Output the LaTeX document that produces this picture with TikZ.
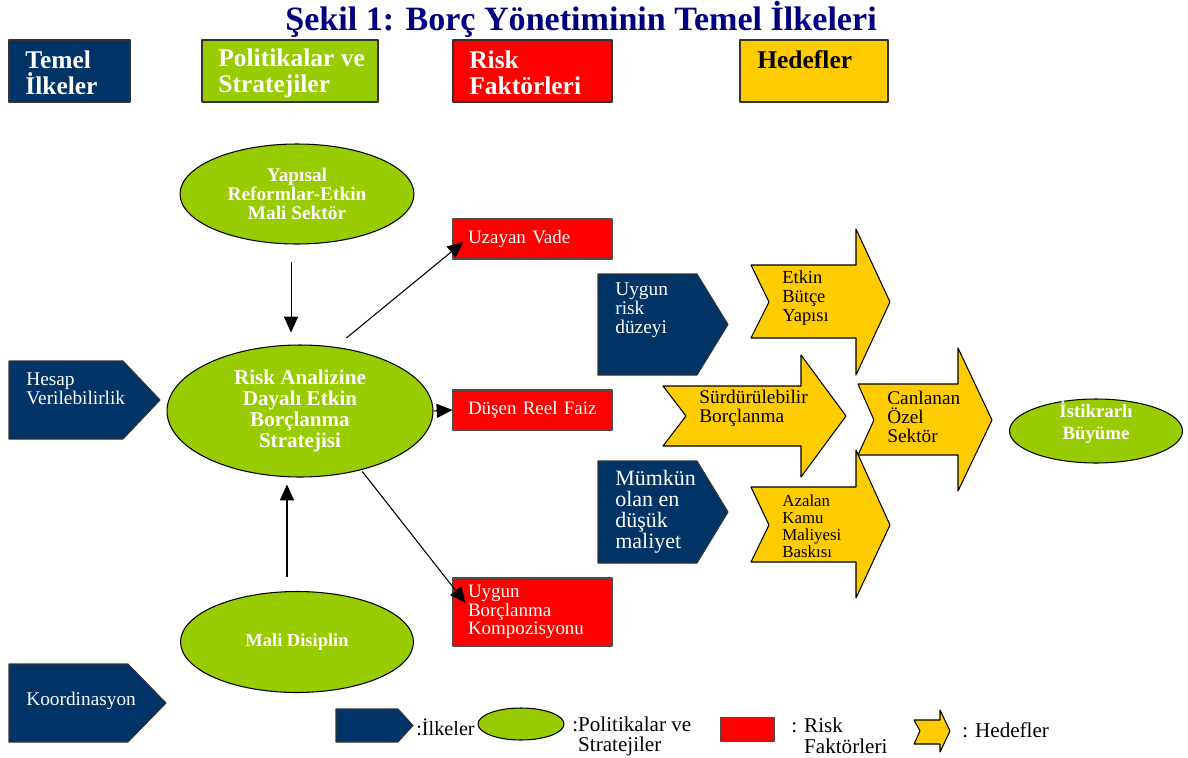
\documentclass[tikz,border=0pt]{standalone}
\usepackage{fontspec}
\setmainfont{Liberation Serif}
\usetikzlibrary{shapes.geometric,arrows.meta}
\definecolor{ilkerenk}{RGB}{0,51,102}
\definecolor{politika}{RGB}{153,204,0}
\definecolor{risk}{RGB}{255,0,0}
\definecolor{hedef}{RGB}{255,204,0}
\definecolor{baslikrenk}{RGB}{0,0,128}
\tikzset{
  kutu/.style={rectangle,draw=black!80,line width=0.7pt,minimum height=1.24cm,inner sep=0pt},
  kututext/.style={anchor=west,align=left,inner sep=0pt,font=\fontsize{14.5}{14.7}\selectfont\bfseries},
  politik/.style={ellipse,draw=black,line width=0.6pt,fill=politika,text=white,align=center,inner sep=0pt},
  riskbox/.style={rectangle,draw=black!70,line width=0.6pt,fill=risk,text=white,text width=2.58cm,
    inner xsep=0.3cm,inner ysep=0pt,minimum width=3.18cm,align=left,font=\fontsize{10.8}{10.6}\selectfont},
  ilke/.style={draw=black!80,line width=0.6pt,fill=ilkerenk},
  hedefok/.style={draw=black,line width=0.6pt,fill=hedef},
  yazi/.style={anchor=west,align=left,inner sep=0pt},
  pil/.style={->,line width=0.6pt}
}
\begin{document}
\begin{tikzpicture}[x=0.02cm,y=-0.02cm,>={Triangle[length=9pt,width=8pt]},line join=round]
\useasboundingbox (0,0) rectangle (1188,758);
% baslik
\node[font=\fontsize{19.4}{22}\selectfont\bfseries,text=baslikrenk] (baslik) at (581,19) {Şekil 1: Borç Yönetiminin Temel İlkeleri};
% ust kutular
\node[kutu,fill=ilkerenk,minimum width=2.42cm] (temel) at (69.5,71) {};
\node[kutu,fill=politika,minimum width=3.52cm] (politikalar) at (290,71) {};
\node[kutu,fill=risk,minimum width=3.18cm] (riskler) at (532.5,71) {};
\node[kutu,fill=hedef,minimum width=2.96cm] (hedefler) at (814,71) {};
\node[kututext,text=white] (temeltxt) at (25,73) {Temel\\İlkeler};
\node[kututext,text=white] (politikalartxt) at (218,73) {Politikalar ve\\Stratejiler};
\node[kututext,text=white] (risklertxt) at (469,73) {Risk\\Faktörleri};
\node[kututext] (hedeflertxt) at (757,60) {Hedefler};
% ilkeler
\foreach \xa/\xb/\xc/\ya/\yb in {9/123/160/361/439,9/128/166/664/742,598/697/728/274/375,598/697/728/461/563,336/398/413/709/742}
  \draw[ilke] (\xa,\ya) -- (\xb,\ya) -- (\xc,{(\ya+\yb)/2}) -- (\xb,\yb) -- (\xa,\yb) -- cycle;
\node[yazi,text=white,font=\fontsize{11}{10.6}\selectfont] (hesap) at (26,389) {Hesap\\Verilebilirlik};
\node[yazi,text=white,font=\fontsize{11}{10.6}\selectfont] (koordinasyon) at (26,701) {Koordinasyon};
\node[yazi,text=white,font=\fontsize{11}{10.8}\selectfont] (uygunrisk) at (615,310) {Uygun\\risk\\düzeyi};
\node[yazi,text=white,font=\fontsize{12.5}{12}\selectfont] (maliyet) at (615,512) {Mümkün\\olan en\\düşük\\maliyet};
% hedefler
\foreach \xl/\xn/\xh/\xt/\yht/\ybt/\ym/\ybb/\yhb in {751/769/856/890/229/265/302/338/375,663/686/801/846/355/386/416/446/477,751/769/856/890/450/487/525/562/598,858/874/958/992/348/384/420/455/491,914/920/940/950/710/720/731/744/752}
  \draw[hedefok] (\xl,\ybt) -- (\xh,\ybt) -- (\xh,\yht) -- (\xt,\ym) -- (\xh,\yhb) -- (\xh,\ybb) -- (\xl,\ybb) -- (\xn,\ym) -- cycle;
\node[yazi,font=\fontsize{10.5}{10.8}\selectfont] (butce) at (782,298) {Etkin\\Bütçe\\Yapısı};
\node[yazi,font=\fontsize{11}{10.8}\selectfont] (surdur) at (699,408) {Sürdürülebilir\\Borçlanma};
\node[yazi,font=\fontsize{11}{10.8}\selectfont] (ozel) at (887,417) {Canlanan\\Özel\\Sektör};
\node[yazi,font=\fontsize{9.6}{9.6}\selectfont] (kamu) at (782,526) {Azalan\\Kamu\\Maliyesi\\Baskısı};
% politikalar
\node[politik,minimum width=4.68cm,minimum height=2cm,font=\fontsize{11}{10.8}\selectfont\bfseries] (yapisal) at (297,194) {Yapısal\\Reformlar-Etkin\\Mali Sektör};
\node[politik,minimum width=5.32cm,minimum height=2.64cm,font=\fontsize{12}{11.9}\selectfont\bfseries] (strateji) at (300,411) {Risk Analizine\\Dayalı Etkin\\Borçlanma\\Stratejisi};
\node[politik,minimum width=4.66cm,minimum height=2.02cm,font=\fontsize{10.5}{12}\selectfont\bfseries] (disiplin) at (297,642) {Mali Disiplin};
\node[politik,minimum width=3.46cm,minimum height=1.28cm] (istikrar) at (1096,431) {};
\node[text=white,align=center,inner sep=0pt,font=\fontsize{10.7}{12.5}\selectfont\bfseries] (istikrartxt) at (1096,422) {İstikrarlı\\Büyüme};
% risk faktorleri
\node[riskbox,minimum height=0.8cm] (uzayan) at (532.5,239) {Uzayan Vade};
\node[riskbox,minimum height=0.8cm] (dusen) at (532.5,410) {Düşen Reel Faiz};
\node[riskbox,minimum height=1.36cm] (kompozisyon) at (532.5,612) {Uygun\\Borçlanma\\Kompozisyonu};
% oklar
\draw[pil,shorten <=10pt,shorten >=6.8pt] ([xshift=-3.4pt]yapisal.south) -- ([xshift=-3.4pt]yapisal.south |- strateji.north);
\draw[pil,shorten <=8pt,shorten >=4pt] ([xshift=-5.7pt]disiplin.north) -- ([xshift=-5.7pt]disiplin.north |- strateji.south);
\draw[pil,shorten <=8pt] (strateji.61) -- ([xshift=6.2pt,yshift=-1.7pt]uzayan.west);
\draw[pil] (strateji.east) -- (dusen.west);
\draw[pil,shorten <=1pt] (strateji.-44) -- ([xshift=7.4pt,yshift=5.1pt]kompozisyon.west);
% aciklama
\node[politik,minimum width=1.72cm,minimum height=0.64cm] (orneklipse) at (521,724) {};
\node[rectangle,draw=black!70,line width=0.6pt,fill=risk,minimum width=1.06cm,minimum height=0.48cm] (ornekrisk) at (747.5,729.5) {};
\node[yazi,font=\fontsize{11.5}{12}\selectfont] (ilkeleryazi) at (416,727) {:İlkeler};
\node[yazi,font=\fontsize{12}{11.3}\selectfont] (politikayazi) at (572,736) {:Politikalar ve\\\phantom{:}Stratejiler};
\node[yazi,font=\fontsize{12}{11.6}\selectfont] (riskyazi) at (791,736) {: Risk\\\phantom{: }Faktörleri};
\node[yazi,font=\fontsize{12}{12}\selectfont] (hedefyazi) at (962,730) {: Hedefler};
\end{tikzpicture}
\end{document}
